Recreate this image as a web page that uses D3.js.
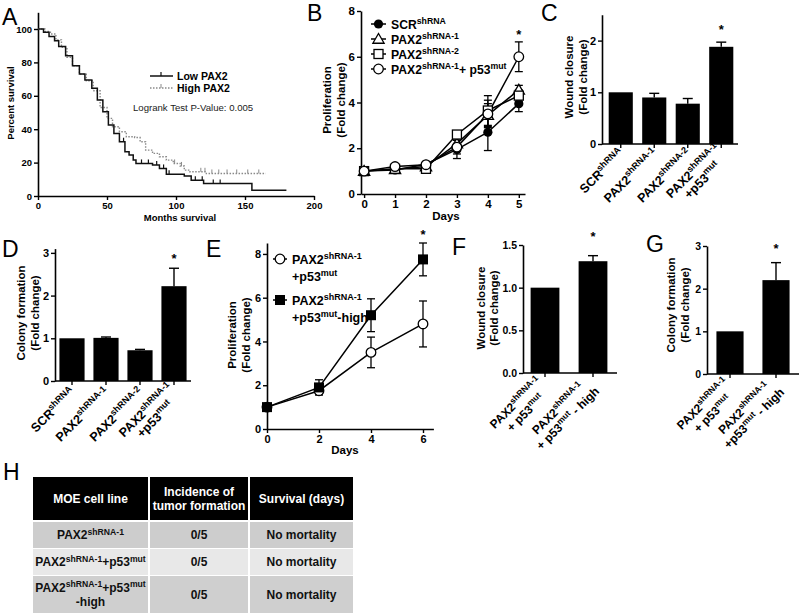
<!DOCTYPE html>
<html><head><meta charset="utf-8">
<script src="https://cdn.jsdelivr.net/npm/d3@7"></script>
<style>body{margin:0;background:#fff}svg{display:block}</style>
</head><body>
<svg id="c" width="800" height="614"></svg>
<script>
// ================= DATA =================
// Panel A: Kaplan-Meier steps [months, percent survival]
const lowPAX2 = [[0,100],[4,98],[8,95.5],[12,93],[15,89.5],[20,84],[25,78],[30,73],[34,69.5],[39,64.5],[43,57.5],[47,50.5],[51,42.5],[55,37.5],[59,32.5],[63,26.5],[66,24.5],[69,21.5],[71,19.5],[83,18.5],[88,16.5],[93,13],[106,12],[111,9.5],[120,7.5],[154,7.5],[155,3.5],[180,3.5]];
const highPAX2 = [[0,100],[5,98.5],[9,97],[13,93.5],[17,89],[21,83],[25,78],[30,73],[35,69],[40,63],[45,53],[50,46.5],[54,41.5],[59,38.5],[64,35.5],[70,35],[74,32.5],[78,27.5],[83,25.5],[88,23.5],[93,21.5],[98,19.5],[103,18],[106,15.5],[110,14.5],[120,14.5],[122,13.5],[165,13.5]];
const lowCensor = [62, 75, 80, 86, 91, 95, 114, 119, 127, 132];
const highCensor = [99, 104, 118, 121, 126, 131, 137, 144, 152, 160];
const aXTicks = [0, 50, 100, 150, 200];
const aYTicks = [0, 20, 40, 60, 80, 100];
const aLegend = ["Low PAX2", "High PAX2"];
const aPValue = "Logrank Test P-Value: 0.005";

// Panel B: proliferation over days
const bDays = [0, 1, 2, 3, 4, 5];
const bNames = ["SCR^shRNA^", "PAX2^shRNA-1^", "PAX2^shRNA-2^", "PAX2^shRNA-1^+ p53^mut^"];
const bScrMean = [1.0, 1.05, 1.3, 1.95, 2.7, 3.95];
const bScrErr  = [0.04, 0.05, 0.08, 0.4, 0.8, 0.35];
const bSh1Mean = [1.0, 1.08, 1.2, 2.2, 3.45, 4.55];
const bSh1Err  = [0.04, 0.05, 0.08, 0.3, 0.5, 0.2];
const bSh2Mean = [1.0, 1.1, 1.1, 2.6, 3.65, 4.3];
const bSh2Err  = [0.04, 0.05, 0.06, 0.15, 0.65, 0.25];
const bP53Mean = [1.0, 1.2, 1.28, 2.05, 3.5, 6.0];
const bP53Err  = [0.04, 0.05, 0.08, 0.3, 0.6, 0.65];
const bYTicks = [0, 2, 4, 6, 8];

// Panel C: wound closure
const cCats = ["SCR^shRNA^", "PAX2^shRNA-1^", "PAX2^shRNA-2^", "PAX2^shRNA-1^|+p53^mut^"];
const cMean = [1.0, 0.9, 0.78, 1.88];
const cErr  = [0, 0.08, 0.1, 0.09];
const cYTicks = [0, 1, 2];

// Panel D: colony formation
const dCats = ["SCR^shRNA^", "PAX2^shRNA-1^", "PAX2^shRNA-2^", "PAX2^shRNA-1^|+p53^mut^"];
const dMean = [1.0, 1.01, 0.72, 2.22];
const dErr  = [0, 0.02, 0.02, 0.42];
const dYTicks = [0, 1, 2, 3];

// Panel E: proliferation, p53mut vs p53mut-high
const eDays = [0, 2, 4, 6];
const eNames = [["PAX2^shRNA-1^", "+p53^mut^"], ["PAX2^shRNA-1^", "+p53^mut^-high"]];
const eP53Mean  = [1.0, 1.75, 3.5, 4.8];
const eP53Err   = [0.04, 0.15, 0.7, 1.05];
const eHighMean = [1.0, 1.9, 5.2, 7.75];
const eHighErr  = [0.04, 0.35, 0.75, 0.75];
const eXTicks = [0, 2, 4, 6];
const eYTicks = [0, 2, 4, 6, 8];

// Panel F: wound closure
const fCats = ["PAX2^shRNA-1^|+ p53^mut^", "PAX2^shRNA-1^|+ p53^mut^ - high"];
const fMean = [1.0, 1.31];
const fErr  = [0, 0.065];
const fYTicks = [0, 0.5, 1.0, 1.5];

// Panel G: colony formation
const gCats = ["PAX2^shRNA-1^|+ p53^mut^", "PAX2^shRNA-1^|+p53^mut^ - high"];
const gMean = [1.0, 2.2];
const gErr  = [0, 0.41];
const gYTicks = [0, 1, 2, 3];

// Panel H: table
const hHeader = ["MOE cell line", "Incidence of|tumor formation", "Survival (days)"];
const hCol1 = ["PAX2^shRNA-1^", "PAX2^shRNA-1^+p53^mut^", "PAX2^shRNA-1^+p53^mut^|-high"];
const hCol2 = ["0/5", "0/5", "0/5"];
const hCol3 = ["No mortality", "No mortality", "No mortality"];

// ================= DRAWING =================
const FONT = '"Liberation Sans", Arial, Helvetica, sans-serif';
const svg = d3.select('#c').attr('font-family', FONT);

function rich(t, str, size) {
  const parts = str.split('^');
  let pending = 0;
  parts.forEach((p, i) => {
    if (!p) return;
    const sp = t.append('tspan').text(p);
    if (i % 2 === 1) {
      sp.attr('font-size', size * 0.72).attr('dy', -size * 0.4);
      pending = size * 0.4;
    } else if (pending) { sp.attr('dy', pending); pending = 0; }
  });
  return t;
}
function label(x, y, str, size, opts = {}) {
  const t = svg.append('text').attr('x', x).attr('y', y).attr('font-size', size)
    .attr('font-weight', opts.weight || 'bold').attr('fill', opts.fill || '#000')
    .attr('text-anchor', opts.anchor || 'start');
  return rich(t, str, size);
}
function panelLetter(x, y, s) {
  svg.append('text').attr('x', x).attr('y', y).attr('font-size', 23).attr('font-weight', 'normal').text(s);
}
function styleAxis(g, size) {
  g.attr('font-family', FONT).attr('font-size', size).attr('font-weight', 'bold');
  g.select('.domain').attr('stroke', '#000').attr('stroke-width', 1.6);
  g.selectAll('.tick line').attr('stroke', '#000').attr('stroke-width', 1.4);
  g.selectAll('.tick text').attr('fill', '#000');
}
function yTitle(lines, xs, cy, size) {
  lines.forEach((ln, i) => {
    svg.append('text').attr('transform', `translate(${xs[i]},${cy}) rotate(-90)`)
      .attr('text-anchor', 'middle').attr('dominant-baseline', 'central')
      .attr('font-size', size).attr('font-weight', 'bold').text(ln);
  });
}
function catLabel(x, y, str, size, lh) {
  const lines = str.split('|');
  const g = svg.append('g');
  const texts = lines.map((ln, i) => rich(g.append('text').attr('y', i * lh)
    .attr('text-anchor', 'end').attr('font-size', size).attr('font-weight', 'bold'), ln, size));
  let shift = 0;
  if (lines.length > 1) {
    const w = texts.map(t => t.node().getComputedTextLength());
    const mw = Math.max(...w);
    texts.forEach((t, i) => t.attr('x', -(mw - w[i]) / 2));
    shift = -lh / 2;
  }
  g.attr('transform', `translate(${x},${y}) rotate(-45) translate(0,${shift})`);
}
function star(x, y) {
  svg.append('text').attr('x', x).attr('y', y).attr('text-anchor', 'middle')
    .attr('font-size', 13).attr('font-weight', 'bold').text('*');
}
const intFmt = d3.format('d');

// ---------- Panel A ----------
(function () {
  const x = d3.scaleLinear().domain([0, 200]).range([38, 314]);
  const y = d3.scaleLinear().domain([0, 110]).range([196, 12.3]);
  const gy = svg.append('g').attr('transform', 'translate(38,0)')
    .call(d3.axisLeft(y).tickValues(aYTicks).tickSize(4).tickSizeOuter(0).tickPadding(2).tickFormat(intFmt));
  styleAxis(gy, 9.5);
  const gx = svg.append('g').attr('transform', 'translate(0,196)')
    .call(d3.axisBottom(x).tickValues(aXTicks).tickSize(4).tickSizeOuter(0).tickPadding(2).tickFormat(intFmt));
  styleAxis(gx, 9.5);
  const line = d3.line().x(d => x(d[0])).y(d => y(d[1])).curve(d3.curveStepAfter);
  const stepAt = (arr, m) => { let v = arr[0][1]; arr.forEach(p => { if (p[0] <= m) v = p[1]; }); return v; };
  svg.append('path').datum(highPAX2).attr('d', line).attr('fill', 'none')
    .attr('stroke', '#8a8a8a').attr('stroke-width', 1.4).attr('stroke-dasharray', '1.5,1.5');
  svg.append('path').datum(lowPAX2).attr('d', line).attr('fill', 'none')
    .attr('stroke', '#111').attr('stroke-width', 1.5);
  highCensor.forEach(m => svg.append('line').attr('x1', x(m)).attr('x2', x(m))
    .attr('y1', y(stepAt(highPAX2, m))).attr('y2', y(stepAt(highPAX2, m)) - 4).attr('stroke', '#8a8a8a').attr('stroke-width', 1));
  lowCensor.forEach(m => svg.append('line').attr('x1', x(m)).attr('x2', x(m))
    .attr('y1', y(stepAt(lowPAX2, m))).attr('y2', y(stepAt(lowPAX2, m)) - 4).attr('stroke', '#111').attr('stroke-width', 1.2));
  // legend
  svg.append('line').attr('x1', 150).attr('x2', 173).attr('y1', 76).attr('y2', 76).attr('stroke', '#111').attr('stroke-width', 1.5);
  svg.append('line').attr('x1', 161).attr('x2', 161).attr('y1', 76).attr('y2', 72).attr('stroke', '#111').attr('stroke-width', 1.2);
  svg.append('line').attr('x1', 150).attr('x2', 173).attr('y1', 88).attr('y2', 88).attr('stroke', '#8a8a8a').attr('stroke-width', 1.4).attr('stroke-dasharray', '1.5,1.5');
  svg.append('line').attr('x1', 161).attr('x2', 161).attr('y1', 88).attr('y2', 84).attr('stroke', '#8a8a8a').attr('stroke-width', 1);
  label(177, 80, aLegend[0], 10.5);
  label(177, 92, aLegend[1], 10.5);
  label(133, 111, aPValue, 9.6, { weight: 'normal', fill: '#222' });
  yTitle(['Percent survival'], [10], 103, 9.5);
  label(180, 221, 'Months survival', 9.5, { anchor: 'middle' });
  panelLetter(2, 25, 'A');
})();

// ---------- line-panel helpers ----------
function marker(g, shape, cx, cy) {
  if (shape === 'circleFilled') g.append('circle').attr('cx', cx).attr('cy', cy).attr('r', 4.6).attr('fill', '#000');
  else if (shape === 'circleOpen') g.append('circle').attr('cx', cx).attr('cy', cy).attr('r', 4.8).attr('fill', '#fff').attr('stroke', '#000').attr('stroke-width', 1.3);
  else if (shape === 'square') g.append('rect').attr('x', cx - 4.5).attr('y', cy - 4.5).attr('width', 9).attr('height', 9).attr('fill', '#fff').attr('stroke', '#000').attr('stroke-width', 1.3);
  else if (shape === 'squareFilled') g.append('rect').attr('x', cx - 5).attr('y', cy - 5).attr('width', 10).attr('height', 10).attr('fill', '#000');
  else if (shape === 'triangle') g.append('path').attr('d', d3.symbol(d3.symbolTriangle, 55)()).attr('transform', `translate(${cx},${cy + 1})`).attr('fill', '#fff').attr('stroke', '#000').attr('stroke-width', 1.3);
}
function linePanel(x, y, days, series, cap) {
  const line = d3.line().x((d, i) => x(days[i])).y(d => y(d));
  const g = svg.append('g');
  series.forEach(s => {
    s.mean.forEach((m, i) => {
      const e = s.err[i], cx = x(days[i]);
      g.append('line').attr('x1', cx).attr('x2', cx).attr('y1', y(m - e)).attr('y2', y(m + e)).attr('stroke', '#000').attr('stroke-width', 1.3);
      [m - e, m + e].forEach(v => g.append('line').attr('x1', cx - cap).attr('x2', cx + cap).attr('y1', y(v)).attr('y2', y(v)).attr('stroke', '#000').attr('stroke-width', 1.3));
    });
  });
  series.forEach(s => g.append('path').datum(s.mean).attr('d', line).attr('fill', 'none').attr('stroke', '#000').attr('stroke-width', 1.5));
  series.forEach(s => s.mean.forEach((m, i) => marker(g, s.shape, x(days[i]), y(m))));
}

// ---------- Panel B ----------
(function () {
  const x = d3.scaleLinear().domain([-0.1, 5.2]).range([361, 525]);
  const y = d3.scaleLinear().domain([0, 8]).range([194, 11]);
  const gy = svg.append('g').attr('transform', 'translate(361,0)')
    .call(d3.axisLeft(y).tickValues(bYTicks).tickSize(4).tickSizeOuter(0).tickPadding(2).tickFormat(intFmt));
  styleAxis(gy, 11.5);
  const gx = svg.append('g').attr('transform', 'translate(0,194)')
    .call(d3.axisBottom(x).tickValues(bDays).tickSize(4).tickSizeOuter(0).tickPadding(2).tickFormat(intFmt));
  styleAxis(gx, 11.5);
  const shapes = ['circleFilled', 'triangle', 'square', 'circleOpen'];
  const series = [
    { mean: bScrMean, err: bScrErr }, { mean: bSh1Mean, err: bSh1Err },
    { mean: bSh2Mean, err: bSh2Err }, { mean: bP53Mean, err: bP53Err }
  ].map((s, i) => Object.assign(s, { shape: shapes[i] }));
  linePanel(x, y, bDays, series, 4);
  const ly = [24, 39, 54, 69];
  bNames.forEach((n, i) => {
    svg.append('line').attr('x1', 371).attr('x2', 386).attr('y1', ly[i]).attr('y2', ly[i]).attr('stroke', '#000').attr('stroke-width', 1.5);
    marker(svg, shapes[i], 378.5, ly[i]);
    label(391, ly[i] + 4.5, n, 12.2);
  });
  star(x(5), y(bP53Mean[5] + bP53Err[5]) - 3);
  yTitle(['Proliferation', '(Fold change)'], [327, 341], 100, 11.5);
  label(446, 220, 'Days', 11.5, { anchor: 'middle' });
  panelLetter(307, 21, 'B');
})();

// ---------- Bar panels ----------
function barPanel(cfg) {
  const x = d3.scaleBand().domain(cfg.cats).range(cfg.xr);
  const y = d3.scaleLinear().domain(cfg.yd).range(cfg.yr);
  const gy = svg.append('g').attr('transform', `translate(${cfg.axisX},0)`)
    .call(d3.axisLeft(y).tickValues(cfg.yticks).tickSize(4).tickSizeOuter(0).tickPadding(2).tickFormat(cfg.fmt || intFmt));
  styleAxis(gy, cfg.tick);
  const bw = x.bandwidth() * cfg.bar;
  cfg.cats.forEach((c, i) => {
    const cx = x(c) + x.bandwidth() / 2;
    svg.append('rect').attr('x', cx - bw / 2).attr('y', y(cfg.mean[i])).attr('width', bw)
      .attr('height', y(0) - y(cfg.mean[i])).attr('fill', '#000');
    if (cfg.err[i] > 0) {
      svg.append('line').attr('x1', cx).attr('x2', cx).attr('y1', y(cfg.mean[i])).attr('y2', y(cfg.mean[i] + cfg.err[i])).attr('stroke', '#000').attr('stroke-width', 1.4);
      svg.append('line').attr('x1', cx - 5).attr('x2', cx + 5).attr('y1', y(cfg.mean[i] + cfg.err[i])).attr('y2', y(cfg.mean[i] + cfg.err[i])).attr('stroke', '#000').attr('stroke-width', 1.4);
    }
    catLabel(cx + cfg.ldx, y(0) + cfg.ldy, c, cfg.ltick, cfg.lh);
  });
  const gx = svg.append('g').attr('transform', `translate(0,${y(0)})`)
    .call(d3.axisBottom(x).tickSize(4).tickSizeOuter(0).tickFormat(''));
  styleAxis(gx, cfg.tick);
  gx.select('.domain').attr('d', `M${cfg.axisX},0H${cfg.xr[1]}`);
  const last = cfg.cats.length - 1;
  star(x(cfg.cats[last]) + x.bandwidth() / 2, cfg.starY);
  yTitle(cfg.title, cfg.titleX, cfg.titleY, cfg.titleSize);
}

barPanel({ cats: cCats, mean: cMean, err: cErr, xr: [604, 738], axisX: 602, yd: [0, 2.5], yr: [144, 14.75],
  yticks: cYTicks, tick: 11, bar: 0.72, ldx: 4, ldy: 10, ltick: 12.5, lh: 13, starY: 34,
  title: ['Wound closure', '(Fold change)'], titleX: [569, 583], titleY: 77, titleSize: 11.5 });
panelLetter(541, 21, 'C');

barPanel({ cats: dCats, mean: dMean, err: dErr, xr: [55, 191], axisX: 55, yd: [0, 3.1], yr: [381, 248.6],
  yticks: dYTicks, tick: 11, bar: 0.74, ldx: 4, ldy: 12, ltick: 12.5, lh: 13, starY: 263,
  title: ['Colony formation', '(Fold change)'], titleX: [21, 35], titleY: 313, titleSize: 11.5 });
panelLetter(2, 257, 'D');

barPanel({ cats: fCats, mean: fMean, err: fErr, xr: [521, 617], axisX: 523, yd: [0, 1.5], yr: [373, 245],
  yticks: fYTicks, tick: 10.5, bar: 0.6, ldx: 2, ldy: 14, ltick: 12, lh: 14, starY: 241, fmt: d3.format('.1f'),
  title: ['Wound closure', '(Fold change)'], titleX: [481, 494], titleY: 308, titleSize: 11.5 });
panelLetter(452, 255, 'F');

barPanel({ cats: gCats, mean: gMean, err: gErr, xr: [707, 799], axisX: 707, yd: [0, 3], yr: [374, 246],
  yticks: gYTicks, tick: 10.5, bar: 0.59, ldx: 4, ldy: 14, ltick: 12, lh: 14, starY: 253,
  title: ['Colony formation', '(Fold change)'], titleX: [671, 685], titleY: 305, titleSize: 11.5 });
panelLetter(646, 252, 'G');

// ---------- Panel E ----------
(function () {
  const x = d3.scaleLinear().domain([0, 6.4]).range([267, 433.4]);
  const y = d3.scaleLinear().domain([0, 8.5]).range([429, 243]);
  const gy = svg.append('g').attr('transform', 'translate(267,0)')
    .call(d3.axisLeft(y).tickValues(eYTicks).tickSize(4).tickSizeOuter(0).tickPadding(2).tickFormat(intFmt));
  styleAxis(gy, 11);
  const gx = svg.append('g').attr('transform', 'translate(0,429)')
    .call(d3.axisBottom(x).tickValues(eXTicks).tickSize(4).tickSizeOuter(0).tickPadding(2).tickFormat(intFmt));
  styleAxis(gx, 11);
  linePanel(x, y, eDays, [
    { mean: eP53Mean, err: eP53Err, shape: 'circleOpen' },
    { mean: eHighMean, err: eHighErr, shape: 'squareFilled' }
  ], 4);
  const shapes = ['circleOpen', 'squareFilled'];
  const my = [259, 300];
  eNames.forEach((n, i) => {
    svg.append('line').attr('x1', 273).attr('x2', 287).attr('y1', my[i]).attr('y2', my[i]).attr('stroke', '#000').attr('stroke-width', 1.5);
    marker(svg, shapes[i], 280, my[i]);
    label(292, my[i] + 4.5, n[0], 12.5);
    label(292, my[i] + 22, n[1], 12.5);
  });
  star(x(6), y(eHighMean[3] + eHighErr[3]) - 4);
  yTitle(['Proliferation', '(Fold change)'], [232, 246], 335, 11.5);
  label(345, 454, 'Days', 11.5, { anchor: 'middle' });
  panelLetter(206, 257, 'E');
})();

// ---------- Panel H (table) ----------
(function () {
  panelLetter(3, 480, 'H');
  const colX = [[33, 148], [150, 248], [250, 353]];
  const rowY = [[477, 520], [522, 548], [549, 575], [576, 613]];
  const fills = ['#000', '#cdcdcd', '#e8e8e8', '#cfcfcf'];
  const rows = [hHeader].concat(hCol1.map((c, i) => [c, hCol2[i], hCol3[i]]));
  rows.forEach((r, ri) => {
    r.forEach((cell, ci) => {
      const [x0, x1] = colX[ci], [y0, y1] = rowY[ri];
      svg.append('rect').attr('x', x0).attr('y', y0).attr('width', x1 - x0).attr('height', y1 - y0).attr('fill', fills[ri]);
      const lines = cell.split('|');
      const cy = (y0 + y1) / 2, lh = 14;
      lines.forEach((ln, li) => {
        const yy = cy + (li - (lines.length - 1) / 2) * lh + 4.3;
        label((x0 + x1) / 2, yy, ln, 12, { anchor: 'middle', fill: ri === 0 ? '#fff' : '#111' });
      });
    });
  });
})();
</script>
</body></html>
